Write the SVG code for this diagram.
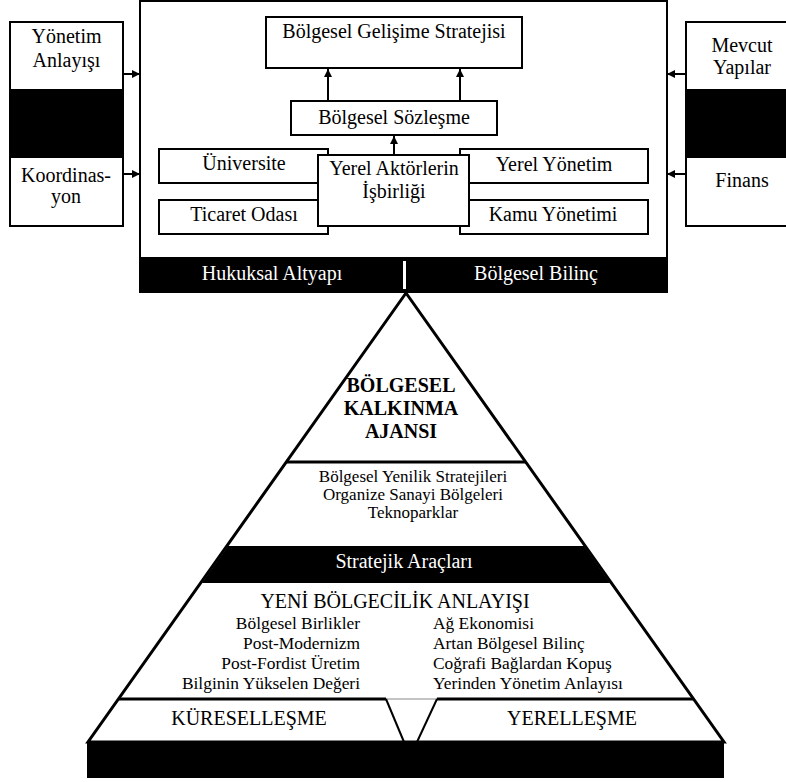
<svg xmlns="http://www.w3.org/2000/svg" width="786" height="782" viewBox="0 0 786 782" font-family="Liberation Serif, DejaVu Serif, serif">
<style>
.box{fill:#fff;stroke:#000;stroke-width:2}
.blk{fill:#000}
.t{font-family:"Liberation Serif",serif;font-size:20px;fill:#000;text-anchor:middle}
.w{fill:#fff}
.b{font-weight:bold}
.s{font-size:17.4px}
.m{font-size:17px}
.r{text-anchor:end}
.l{text-anchor:start}
.c{stroke:#000;stroke-width:2;fill:none}
.pe{fill:#fff;stroke:#000;stroke-width:3}
</style>
<defs>
<marker id="ah" viewBox="0 0 10 10" refX="10" refY="5" markerWidth="9" markerHeight="8" markerUnits="userSpaceOnUse" orient="auto">
<path d="M0,0 L10,5 L0,10 z" fill="#000"/>
</marker>
</defs>

<g id="main-frame">
<rect class="box" x="140" y="1" width="527" height="257"/>
<rect class="blk" x="139" y="258" width="529" height="35"/>
<rect class="w" x="403" y="261" width="3" height="28"/>
<text class="t w" x="272" y="280" font-family="Liberation Serif">Hukuksal Altyapı</text>
<text class="t w" x="536" y="280">Bölgesel Bilinç</text>
</g>

<g id="node-strateji">
<rect class="box" x="266" y="17" width="256" height="51"/>
<text class="t" x="394" y="38">Bölgesel Gelişime Stratejisi</text>
</g>
<g id="node-sozlesme">
<rect class="box" x="291" y="101" width="206" height="34"/>
<text class="t" x="394" y="124">Bölgesel Sözleşme</text>
</g>
<g id="node-universite">
<rect class="box" x="159" y="149" width="169" height="34"/>
<text class="t" x="244" y="170">Üniversite</text>
</g>
<g id="node-ticaret">
<rect class="box" x="159" y="200" width="169" height="34"/>
<text class="t" x="244" y="221">Ticaret Odası</text>
</g>
<g id="node-yerelyonetim">
<rect class="box" x="460" y="149" width="188" height="34"/>
<text class="t" x="554" y="171">Yerel Yönetim</text>
</g>
<g id="node-kamu">
<rect class="box" x="460" y="200" width="188" height="34"/>
<text class="t" x="553" y="221">Kamu Yönetimi</text>
</g>
<g id="node-isbirligi">
<rect class="box" x="318" y="155" width="151" height="71"/>
<text class="t" x="394" y="175">Yerel Aktörlerin</text>
<text class="t" x="394" y="198">İşbirliği</text>
</g>

<g id="node-left">
<rect class="box" x="10" y="22" width="113" height="204"/>
<rect class="blk" x="10" y="89" width="113" height="69"/>
<text class="t" x="66.5" y="43">Yönetim</text>
<text class="t" x="66.5" y="67">Anlayışı</text>
<text class="t" x="66" y="182">Koordinas-</text>
<text class="t" x="66" y="203">yon</text>
</g>
<g id="node-right">
<rect class="box" x="686" y="22" width="113" height="204"/>
<rect class="blk" x="686" y="89" width="113" height="69"/>
<text class="t" x="742" y="52">Mevcut</text>
<text class="t" x="742" y="74">Yapılar</text>
<text class="t" x="742" y="187">Finans</text>
</g>

<g id="connectors">
<line class="c" x1="328" y1="101" x2="328" y2="69" marker-end="url(#ah)"/>
<line class="c" x1="460" y1="101" x2="460" y2="69" marker-end="url(#ah)"/>
<line class="c" x1="394" y1="155" x2="394" y2="136" marker-end="url(#ah)"/>
<line class="c" x1="123" y1="74" x2="140" y2="74" marker-end="url(#ah)"/>
<line class="c" x1="123" y1="174" x2="140" y2="174" marker-end="url(#ah)"/>
<line class="c" x1="686" y1="74" x2="667" y2="74" marker-end="url(#ah)"/>
<line class="c" x1="686" y1="174" x2="667" y2="174" marker-end="url(#ah)"/>
</g>

<g id="pyramid">
<polygon class="pe" points="406,293 88,742 724,742"/>
<line x1="286" y1="462" x2="526" y2="462" stroke="#000" stroke-width="3"/>
<polygon class="blk" points="228,546 584,546 610,583 202,583"/>
<line x1="119" y1="699" x2="386" y2="699" stroke="#000" stroke-width="3"/>
<line x1="437" y1="699" x2="693" y2="699" stroke="#000" stroke-width="3"/>
<line x1="386" y1="699" x2="437" y2="699" stroke="#888" stroke-width="1"/>
<line class="c" x1="386" y1="699" x2="404" y2="742"/>
<line class="c" x1="437" y1="699" x2="417" y2="742"/>
<rect class="blk" x="87" y="742" width="637" height="36"/>
</g>

<g id="pyr-top">
<text class="t b" x="401" y="392">BÖLGESEL</text>
<text class="t b" x="401" y="415">KALKINMA</text>
<text class="t b" x="401" y="438">AJANSI</text>
</g>
<g id="pyr-tools">
<text class="t m" x="413" y="482">Bölgesel Yenilik Stratejileri</text>
<text class="t m" x="413" y="500">Organize Sanayi Bölgeleri</text>
<text class="t m" x="413" y="518">Teknoparklar</text>
<text class="t w" x="404" y="568">Stratejik Araçları</text>
</g>
<g id="pyr-yeni">
<text class="t" x="395" y="608">YENİ BÖLGECİLİK ANLAYIŞI</text>
<text class="t s r" x="360" y="629">Bölgesel Birlikler</text>
<text class="t s r" x="360" y="649">Post-Modernizm</text>
<text class="t s r" x="360" y="669">Post-Fordist Üretim</text>
<text class="t s r" x="360" y="689">Bilginin Yükselen Değeri</text>
<text class="t s l" x="433" y="629">Ağ Ekonomisi</text>
<text class="t s l" x="433" y="649">Artan Bölgesel Bilinç</text>
<text class="t s l" x="433" y="669">Coğrafi Bağlardan Kopuş</text>
<text class="t s l" x="433" y="689">Yerinden Yönetim Anlayısı</text>
</g>
<g id="pyr-base">
<text class="t" x="249" y="725">KÜRESELLEŞME</text>
<text class="t" x="572" y="725">YERELLEŞME</text>
</g>
</svg>
